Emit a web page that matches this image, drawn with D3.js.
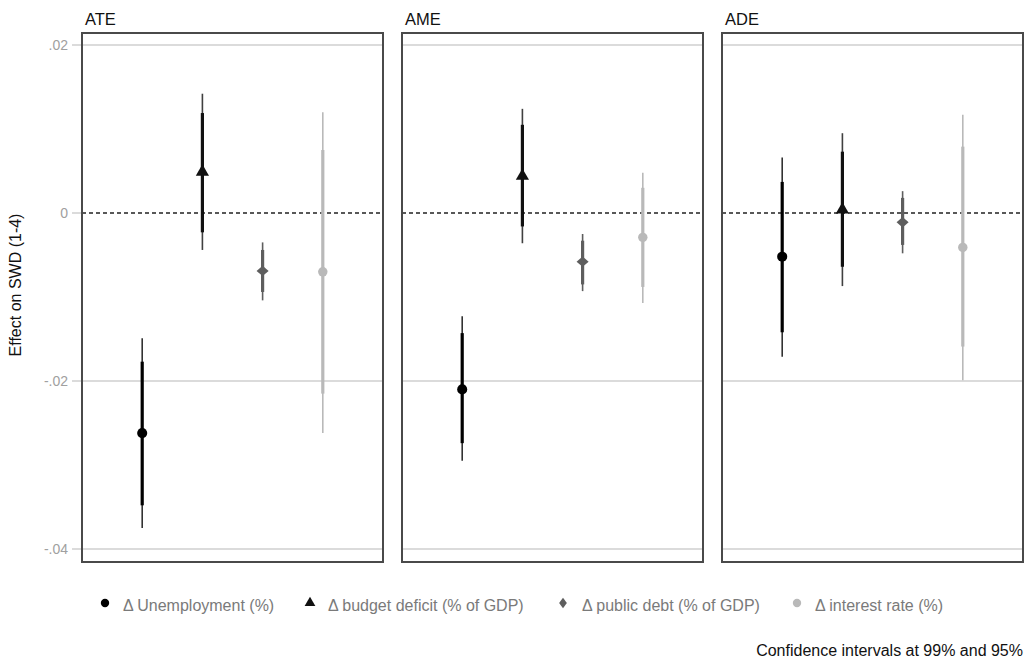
<!DOCTYPE html>
<html><head><meta charset="utf-8">
<script src="https://cdn.jsdelivr.net/npm/d3@7"></script>
<style>
html,body{margin:0;padding:0;background:#fff;}
svg{display:block;font-family:"Liberation Sans",Arial,sans-serif;}
</style></head>
<body><svg id="c" width="1029" height="663"></svg>
<script>
// ---- data ----
const panels = ["ATE", "AME", "ADE"];
const categories = ["Δ Unemployment (%)", "Δ budget deficit (% of GDP)", "Δ public debt (% of GDP)", "Δ interest rate (%)"];
const yTicks = [0.02, 0, -0.02, -0.04];
const yTickLabels = [".02", "0", "-.02", "-.04"];
// estimates per panel (order of categories)
const estATE = [-0.0262, 0.0049, -0.0069, -0.0070];
const estAME = [-0.0210, 0.0044, -0.0058, -0.0029];
const estADE = [-0.0052, 0.0004, -0.0011, -0.0041];
// 95% CI
const lo95ATE = [-0.0348, -0.0023, -0.0094, -0.0215];
const hi95ATE = [-0.0177, 0.0119, -0.0044, 0.0075];
const lo95AME = [-0.0274, -0.0016, -0.0085, -0.0088];
const hi95AME = [-0.0143, 0.0105, -0.0033, 0.0030];
const lo95ADE = [-0.0142, -0.0064, -0.0038, -0.0159];
const hi95ADE = [0.0037, 0.0073, 0.0018, 0.0079];
// 99% CI
const lo99ATE = [-0.0375, -0.0044, -0.0104, -0.0262];
const hi99ATE = [-0.0149, 0.0142, -0.0035, 0.0120];
const lo99AME = [-0.0295, -0.0036, -0.0093, -0.0107];
const hi99AME = [-0.0123, 0.0124, -0.0025, 0.0048];
const lo99ADE = [-0.0171, -0.0087, -0.0048, -0.0199];
const hi99ADE = [0.0066, 0.0095, 0.0026, 0.0117];
const caption = "Confidence intervals at 99% and 95%";
const yTitle = "Effect on SWD (1-4)";

const panelData = {
  ATE: {est: estATE, lo95: lo95ATE, hi95: hi95ATE, lo99: lo99ATE, hi99: hi99ATE},
  AME: {est: estAME, lo95: lo95AME, hi95: hi95AME, lo99: lo99AME, hi99: hi99AME},
  ADE: {est: estADE, lo95: lo95ADE, hi95: hi95ADE, lo99: lo99ADE, hi99: hi99ADE}
};

// ---- styles ----
const wideDiamond = {
  draw(ctx, size) {
    const r = Math.sqrt(size) * 0.62;
    ctx.moveTo(0, -r * 0.85); ctx.lineTo(r, 0); ctx.lineTo(0, r * 0.85); ctx.lineTo(-r, 0); ctx.closePath();
  }
};
const tallDiamond = {
  draw(ctx, size) {
    const r = Math.sqrt(size) * 0.62;
    ctx.moveTo(0, -r); ctx.lineTo(r * 0.75, 0); ctx.lineTo(0, r); ctx.lineTo(-r * 0.75, 0); ctx.closePath();
  }
};
const colors = ["#000000", "#111111", "#5e5e5e", "#b9b9b9"];
const shapes = [d3.symbolCircle, d3.symbolTriangle, wideDiamond, d3.symbolCircle];
const legShapes = [d3.symbolCircle, d3.symbolTriangle, tallDiamond, d3.symbolCircle];
const symSizes = [80, 75, 95, 70];
const legSizes = [55, 50, 70, 55];

const svg = d3.select("#c");
const panelLefts = [82, 402, 722];
const panelW = 301;
const panelTop = 33, panelBottom = 562;

const y = d3.scaleLinear().domain([-0.04, 0.02]).range([549, 45]);
const x = d3.scalePoint().domain(categories).range([0, panelW]).padding(1);

// y axis labels (left of first panel)
yTicks.forEach((t, i) => {
  svg.append("line").attr("x1", 72).attr("x2", 82).attr("y1", y(t)).attr("y2", y(t))
    .attr("stroke", "#cfcfcf").attr("stroke-width", 1.5);
  svg.append("text").attr("x", 68).attr("y", y(t)).attr("dy", "0.36em")
    .attr("text-anchor", "end").attr("font-size", 14).attr("fill", "#a0a0a0").text(yTickLabels[i]);
});
svg.append("text").attr("transform", `translate(21,285) rotate(-90)`)
  .attr("text-anchor", "middle").attr("font-size", 16).attr("fill", "#111").text(yTitle);

panels.forEach((p, pi) => {
  const g = svg.append("g").attr("transform", `translate(${panelLefts[pi]},0)`);
  const d = panelData[p];
  // grid
  yTicks.filter(t => t !== 0).forEach(t => {
    g.append("line").attr("x1", 0).attr("x2", panelW).attr("y1", y(t)).attr("y2", y(t))
      .attr("stroke", "#cfcfcf").attr("stroke-width", 1.5);
  });
  g.append("line").attr("x1", 0).attr("x2", panelW).attr("y1", y(0)).attr("y2", y(0))
    .attr("stroke", "#222").attr("stroke-width", 1.5).attr("stroke-dasharray", "4,3");
  // 99% bars
  categories.forEach((c, i) => {
    g.append("line").attr("x1", x(c)).attr("x2", x(c)).attr("y1", y(d.lo99[i])).attr("y2", y(d.hi99[i]))
      .attr("stroke", colors[i]).attr("stroke-width", 1.6).attr("opacity", i < 2 ? 0.8 : 1);
  });
  // 95% bars
  categories.forEach((c, i) => {
    g.append("line").attr("x1", x(c)).attr("x2", x(c)).attr("y1", y(d.lo95[i])).attr("y2", y(d.hi95[i]))
      .attr("stroke", colors[i]).attr("stroke-width", 3.2);
  });
  // points
  categories.forEach((c, i) => {
    g.append("path").attr("d", d3.symbol().type(shapes[i]).size(symSizes[i])())
      .attr("transform", `translate(${x(c)},${y(d.est[i])})`).attr("fill", colors[i]);
  });
  // border
  g.append("rect").attr("x", 0).attr("y", panelTop).attr("width", panelW).attr("height", panelBottom - panelTop)
    .attr("fill", "none").attr("stroke", "#4a4a4a").attr("stroke-width", 2);
  // title
  g.append("text").attr("x", 3).attr("y", 25).attr("font-size", 16.5).attr("fill", "#111").text(p);
});

// legend
const legMarkX = [105, 310, 563, 797];
const legTextX = [123, 328, 582, 815];
const legY = 605;
categories.forEach((c, i) => {
  svg.append("path").attr("d", d3.symbol().type(legShapes[i]).size(legSizes[i])())
    .attr("transform", `translate(${legMarkX[i]},${legY - 2})`).attr("fill", colors[i]);
  svg.append("text").attr("x", legTextX[i]).attr("y", legY).attr("dy", "0.36em")
    .attr("font-size", 16).attr("fill", "#7a7a7a").text(c);
});
svg.append("text").attr("x", 1023).attr("y", 656).attr("text-anchor", "end")
  .attr("font-size", 16).attr("fill", "#111").text(caption);
</script></body></html>
